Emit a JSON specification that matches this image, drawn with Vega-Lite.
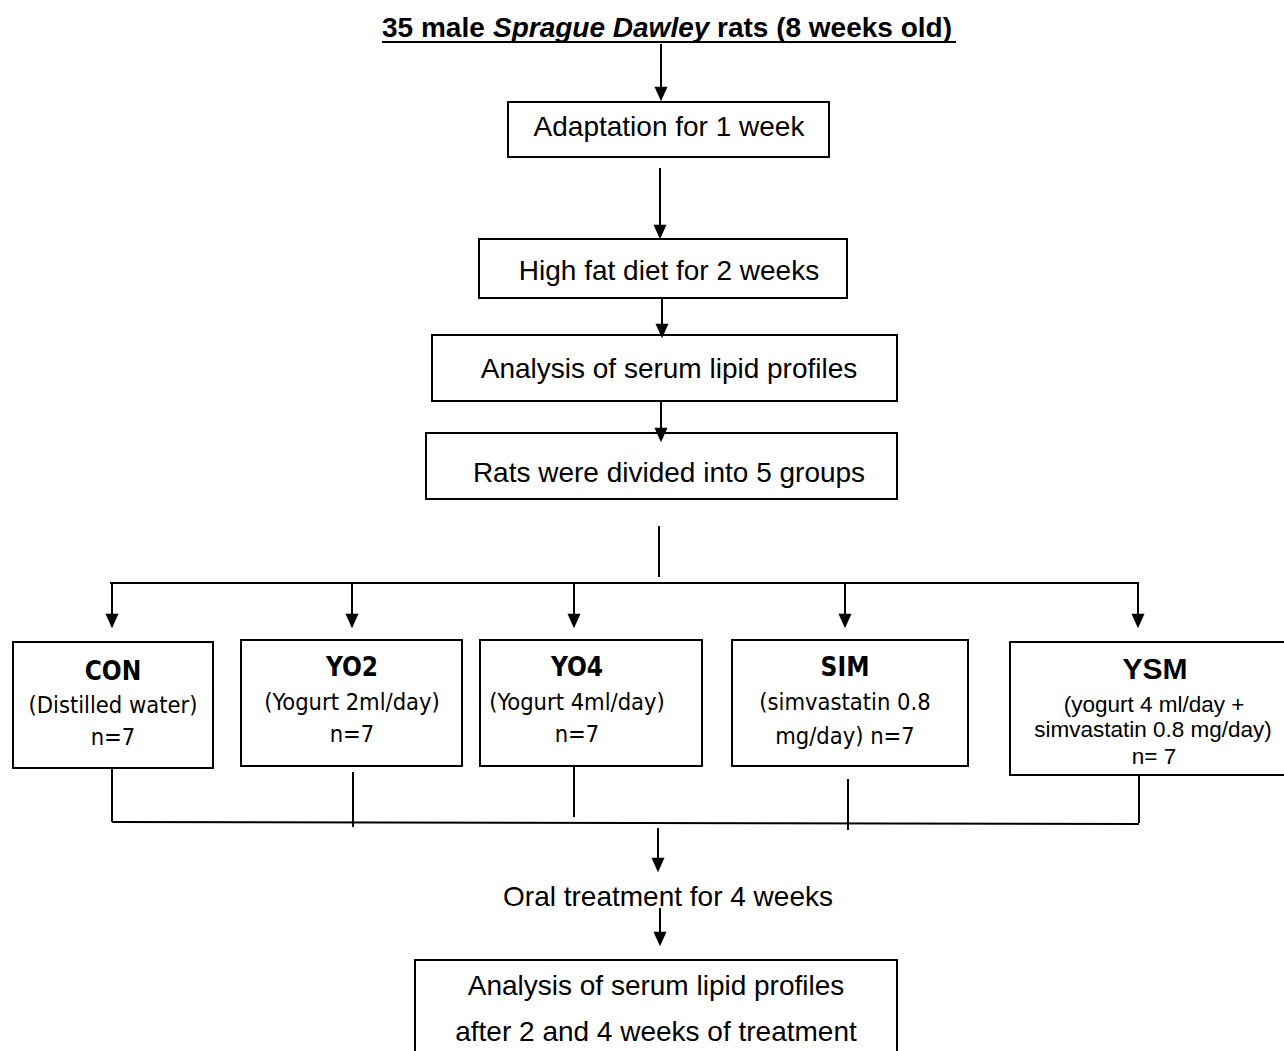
{
  "$schema": "https://vega.github.io/schema/vega-lite/v6.json",
  "width": 1284,
  "height": 1051,
  "autosize": {"type": "none"},
  "padding": 0,
  "background": "white",
  "config": {"view": {"stroke": null}},
  "datasets": {
    "boxes": [
      {"x": 508, "y": 102, "x2": 829, "y2": 157},
      {"x": 479, "y": 239, "x2": 847, "y2": 298},
      {"x": 432, "y": 335, "x2": 897, "y2": 401},
      {"x": 426, "y": 433, "x2": 897, "y2": 499},
      {"x": 13, "y": 642, "x2": 213, "y2": 768},
      {"x": 241, "y": 640, "x2": 462, "y2": 766},
      {"x": 480, "y": 640, "x2": 702, "y2": 766},
      {"x": 732, "y": 640, "x2": 968, "y2": 766},
      {"x": 1010, "y": 642, "x2": 1295, "y2": 775},
      {"x": 415, "y": 960, "x2": 897, "y2": 1060}
    ],
    "lines": [
      {"x": 382, "y": 42, "x2": 956, "y2": 42},
      {"x": 661, "y": 44, "x2": 661, "y2": 95},
      {"x": 660, "y": 168, "x2": 660, "y2": 232},
      {"x": 662, "y": 298, "x2": 662, "y2": 331},
      {"x": 661, "y": 401, "x2": 661, "y2": 434},
      {"x": 659, "y": 526, "x2": 659, "y2": 577},
      {"x": 110, "y": 583, "x2": 1139, "y2": 583},
      {"x": 112, "y": 583, "x2": 112, "y2": 621},
      {"x": 352, "y": 583, "x2": 352, "y2": 621},
      {"x": 574, "y": 583, "x2": 574, "y2": 621},
      {"x": 845, "y": 583, "x2": 845, "y2": 621},
      {"x": 1138, "y": 583, "x2": 1138, "y2": 621},
      {"x": 112, "y": 768, "x2": 112, "y2": 822},
      {"x": 353, "y": 772, "x2": 353, "y2": 827},
      {"x": 574, "y": 766, "x2": 574, "y2": 817},
      {"x": 848, "y": 779, "x2": 848, "y2": 830},
      {"x": 1139, "y": 775, "x2": 1139, "y2": 823},
      {"x": 112, "y": 822, "x2": 1139, "y2": 824},
      {"x": 658, "y": 828, "x2": 658, "y2": 866},
      {"x": 660, "y": 908, "x2": 660, "y2": 940}
    ],
    "arrows": [
      {"x": 661, "y": 94},
      {"x": 660, "y": 232},
      {"x": 662, "y": 331},
      {"x": 661, "y": 435},
      {"x": 112, "y": 621},
      {"x": 352, "y": 621},
      {"x": 574, "y": 621},
      {"x": 845, "y": 621},
      {"x": 1138, "y": 621},
      {"x": 658, "y": 865},
      {"x": 660, "y": 939}
    ],
    "texts": [
      {"x": 382, "y": 37, "text": "35 male", "kind": "title"},
      {"x": 493, "y": 37, "text": "Sprague Dawley", "kind": "titleItalic"},
      {"x": 717, "y": 37, "text": "rats (8 weeks old)", "kind": "title"},
      {"x": 669, "y": 128, "text": "Adaptation for 1 week", "kind": "step"},
      {"x": 669, "y": 272, "text": "High fat diet for 2 weeks", "kind": "step"},
      {"x": 669, "y": 370, "text": "Analysis of serum lipid profiles", "kind": "step"},
      {"x": 669, "y": 474, "text": "Rats were divided into 5 groups", "kind": "step"},
      {"x": 668, "y": 898, "text": "Oral treatment for 4 weeks", "kind": "step"},
      {"x": 656, "y": 987, "text": "Analysis of serum lipid profiles", "kind": "step"},
      {"x": 656, "y": 1033, "text": "after 2 and 4 weeks of treatment", "kind": "step"},
      {"x": 113, "y": 672, "text": "CON", "kind": "gname"},
      {"x": 113, "y": 706, "text": "(Distilled water)", "kind": "gdesc"},
      {"x": 113, "y": 738, "text": "n=7", "kind": "gdesc"},
      {"x": 352, "y": 668, "text": "YO2", "kind": "gname"},
      {"x": 352, "y": 703, "text": "(Yogurt 2ml/day)", "kind": "gdesc"},
      {"x": 352, "y": 735, "text": "n=7", "kind": "gdesc"},
      {"x": 577, "y": 668, "text": "YO4", "kind": "gname"},
      {"x": 577, "y": 703, "text": "(Yogurt 4ml/day)", "kind": "gdesc"},
      {"x": 577, "y": 735, "text": "n=7", "kind": "gdesc"},
      {"x": 845, "y": 668, "text": "SIM", "kind": "gname"},
      {"x": 845, "y": 703, "text": "(simvastatin 0.8", "kind": "gdesc"},
      {"x": 845, "y": 737, "text": "mg/day) n=7", "kind": "gdesc"},
      {"x": 1155, "y": 670, "text": "YSM", "kind": "ysmname"},
      {"x": 1154, "y": 705, "text": "(yogurt 4 ml/day +", "kind": "ysmdesc"},
      {"x": 1153, "y": 730, "text": "simvastatin 0.8 mg/day)", "kind": "ysmdesc"},
      {"x": 1154, "y": 757, "text": "n= 7", "kind": "ysmdesc"}
    ]
  },
  "encoding": {
    "x": {"field": "x", "type": "quantitative", "scale": {"domain": [0, 1284], "nice": false, "zero": false}, "axis": null},
    "y": {"field": "y", "type": "quantitative", "scale": {"domain": [1051, 0], "nice": false, "zero": false}, "axis": null}
  },
  "layer": [
    {
      "data": {"name": "boxes"},
      "mark": {"type": "rect", "fill": "white", "stroke": "black", "strokeWidth": 2},
      "encoding": {"x2": {"field": "x2"}, "y2": {"field": "y2"}}
    },
    {
      "data": {"name": "lines"},
      "mark": {"type": "rule", "stroke": "black", "strokeWidth": 2},
      "encoding": {"x2": {"field": "x2"}, "y2": {"field": "y2"}}
    },
    {
      "data": {"name": "arrows"},
      "mark": {"type": "point", "shape": "M-0.9,-1L0.9,-1L0,1Z", "size": 210, "filled": true, "fill": "black", "stroke": null, "opacity": 1},
      "encoding": {}
    },
    {
      "data": {"name": "texts"},
      "transform": [{"filter": "datum.kind == 'title'"}],
      "mark": {"type": "text", "align": "left", "baseline": "alphabetic", "font": "Liberation Sans", "fontWeight": "bold", "fontSize": 28, "color": "black"},
      "encoding": {"text": {"field": "text"}}
    },
    {
      "data": {"name": "texts"},
      "transform": [{"filter": "datum.kind == 'titleItalic'"}],
      "mark": {"type": "text", "align": "left", "baseline": "alphabetic", "font": "Liberation Sans", "fontWeight": "bold", "fontStyle": "italic", "fontSize": 28, "color": "black"},
      "encoding": {"text": {"field": "text"}}
    },
    {
      "data": {"name": "texts"},
      "transform": [{"filter": "datum.kind == 'step'"}],
      "mark": {"type": "text", "align": "center", "baseline": "middle", "font": "Liberation Sans", "fontSize": 28, "color": "black"},
      "encoding": {"text": {"field": "text"}}
    },
    {
      "data": {"name": "texts"},
      "transform": [{"filter": "datum.kind == 'gname'"}],
      "mark": {"type": "text", "align": "center", "baseline": "middle", "font": "'Liberation Sans Narrow', 'Arial Narrow', 'DejaVu Sans Condensed', 'Liberation Sans', sans-serif", "fontWeight": "bold", "fontSize": 26, "color": "black"},
      "encoding": {"text": {"field": "text"}}
    },
    {
      "data": {"name": "texts"},
      "transform": [{"filter": "datum.kind == 'gdesc'"}],
      "mark": {"type": "text", "align": "center", "baseline": "middle", "font": "'Liberation Sans Narrow', 'Arial Narrow', 'DejaVu Sans Condensed', 'Liberation Sans', sans-serif", "fontSize": 23.5, "color": "black"},
      "encoding": {"text": {"field": "text"}}
    },
    {
      "data": {"name": "texts"},
      "transform": [{"filter": "datum.kind == 'ysmname'"}],
      "mark": {"type": "text", "align": "center", "baseline": "middle", "font": "Liberation Sans", "fontWeight": "bold", "fontSize": 30, "color": "black"},
      "encoding": {"text": {"field": "text"}}
    },
    {
      "data": {"name": "texts"},
      "transform": [{"filter": "datum.kind == 'ysmdesc'"}],
      "mark": {"type": "text", "align": "center", "baseline": "middle", "font": "Liberation Sans", "fontSize": 22.5, "color": "black"},
      "encoding": {"text": {"field": "text"}}
    }
  ]
}
